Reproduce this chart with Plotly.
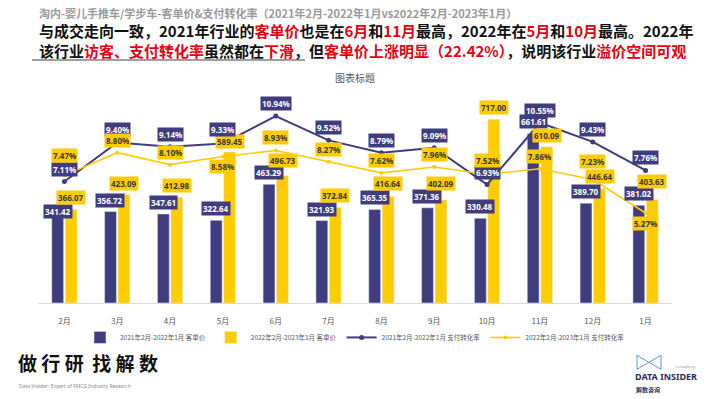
import plotly.graph_objects as go

# ---------------- data ----------------
months = ["2月", "3月", "4月", "5月", "6月", "7月", "8月", "9月", "10月", "11月", "12月", "1月"]
price_2021 = [341.42, 356.72, 347.61, 322.64, 463.29, 321.93, 365.35, 371.36, 330.48, 661.61, 389.70, 381.02]
price_2022 = [366.07, 423.09, 412.98, 589.45, 496.73, 372.84, 416.64, 402.09, 717.00, 610.09, 446.64, 403.63]
rate_2021 = [7.11, 9.40, 9.14, 9.33, 10.94, 9.52, 8.79, 9.09, 6.93, 10.55, 9.43, 7.76]
rate_2022 = [7.47, 8.80, 8.10, 8.58, 8.93, 8.27, 7.62, 7.96, 7.52, 7.86, 7.23, 5.27]
series_names = ["2021年2月-2022年1月 客单价", "2022年2月-2023年1月 客单价",
                "2021年2月-2022年1月 支付转化率", "2022年2月-2023年1月 支付转化率"]

# label offsets in pixels (style only)
price_2021_label_shift = [-3.5, 4, 4, 4, 4, 4, 4, 4, 4, 4, 4, 4]
price_2022_label_shift = [4, 4, 4, 3, 8, 4, 5, 9, 4, 4, 5, 11]
rate_2021_label_shift = [5, 5, 5, 7, 5, 5, 5, 5, 5, 5, 5, 5]
rate_2022_label_shift = [12, 5, 5, -3, 5, 5, 5, 5, 7, 5, 10, -3]  # negative = below point

NAVY = "#403D7F"
YELLOW = "#FFCC00"
FONT_CJK = "Noto Sans CJK SC"

# ---------------- layout geometry helpers ----------------
PLOT_L, PLOT_R = 38, 672
PLOT_T, PLOT_B = 98, 303.5
W, H = 710, 399


def px(x):
    return (x - PLOT_L) / (PLOT_R - PLOT_L)


def py(y):
    return (PLOT_B - y) / (PLOT_B - PLOT_T)


fig = go.Figure()
fig.add_trace(go.Bar(x=months, y=price_2021, name=series_names[0], marker_color=NAVY))
fig.add_trace(go.Bar(x=months, y=price_2022, name=series_names[1], marker_color=YELLOW))
fig.add_trace(go.Scatter(x=months, y=rate_2021, name=series_names[2], yaxis="y2",
                         mode="lines+markers", line=dict(color=NAVY, width=2),
                         marker=dict(color=NAVY, size=5)))
fig.add_trace(go.Scatter(x=months, y=rate_2022, name=series_names[3], yaxis="y2",
                         mode="lines+markers", line=dict(color=YELLOW, width=1.6),
                         marker=dict(color=YELLOW, size=4)))

annotations = []
lab_font_w = dict(family="Noto Sans", size=8, color="white", weight="bold")
lab_font_d = dict(family="Noto Sans", size=8, color="#3a3a3a", weight="bold")
BAR_OFF = 6.8


def vlabel(shift):
    return dict(yshift=shift, yanchor="bottom") if shift >= 0 else dict(yshift=shift, yanchor="top")


for m, v, s in zip(months, price_2021, price_2021_label_shift):
    annotations.append(dict(x=m, y=v, xref="x", yref="y", text=f"{v:.2f}", showarrow=False,
                            xshift=-BAR_OFF, yshift=s, yanchor="bottom", bgcolor=NAVY,
                            borderpad=1, font=lab_font_w))
for m, v, s in zip(months, price_2022, price_2022_label_shift):
    annotations.append(dict(x=m, y=v, xref="x", yref="y", text=f"{v:.2f}", showarrow=False,
                            xshift=BAR_OFF, yshift=s, yanchor="bottom", bgcolor=YELLOW,
                            borderpad=1, font=lab_font_d))
for m, v, s in zip(months, rate_2021, rate_2021_label_shift):
    annotations.append(dict(x=m, y=v, xref="x", yref="y2", text=f"{v:.2f}%", showarrow=False,
                            bgcolor=NAVY, borderpad=1, font=lab_font_w, **vlabel(s)))
for m, v, s in zip(months, rate_2022, rate_2022_label_shift):
    annotations.append(dict(x=m, y=v, xref="x", yref="y2", text=f"{v:.2f}%", showarrow=False,
                            bgcolor=YELLOW, borderpad=1, font=lab_font_d, **vlabel(s)))

# heading texts
R = "#E60012"
line1 = ("与成交走向一致，2021年行业的<span style='color:%s'>客单价</span>也是在"
         "<span style='color:%s'>6月</span>和<span style='color:%s'>11月</span>最高，2022年在"
         "<span style='color:%s'>5月</span>和<span style='color:%s'>10月</span>最高。2022年") % (R, R, R, R, R)
line2 = ("该行业<span style='color:%s'>访客、支付转化率</span>虽然都在"
         "<span style='color:%s'>下滑</span>，但<span style='color:%s'>客单价上涨明显（22.42%%）</span>"
         "，说明该行业<span style='color:%s'>溢价空间可观</span>") % (R, R, R, R)

annotations += [
    dict(x=px(37), y=py(13), xref="paper", yref="paper", xanchor="left", yanchor="middle",
         showarrow=False,
         text="淘内-婴儿手推车/学步车-客单价&支付转化率（2021年2月-2022年1月vs2022年2月-2023年1月）",
         font=dict(family=FONT_CJK, size=11, color="#9a9a9a", weight="bold")),
    dict(x=px(37), y=py(40), xref="paper", yref="paper", xanchor="left", yanchor="middle",
         align="left", showarrow=False, text=line1 + "<br>" + line2,
         font=dict(family=FONT_CJK, size=15, color="#111111", weight="bold")),
    dict(x=0.5, y=py(77), xref="paper", yref="paper", xanchor="center", yanchor="middle",
         showarrow=False, text="图表标题",
         font=dict(family=FONT_CJK, size=10, color="#595959")),
    dict(x=px(16), y=py(363), xref="paper", yref="paper", xanchor="left", yanchor="middle",
         showarrow=False, text="做 行 研  找 解 数",
         font=dict(family=FONT_CJK, size=19, color="#111111", weight="bold")),
    dict(x=px(17), y=py(387), xref="paper", yref="paper", xanchor="left", yanchor="middle",
         showarrow=False, text="Data Insider- Expert of FMCG Industry Research",
         font=dict(family="Noto Sans", size=5, color="#8a8a8a")),
    dict(x=px(633), y=py(377), xref="paper", yref="paper", xanchor="left", yanchor="middle",
         showarrow=False, text="DATA INSIDER",
         font=dict(family="Noto Sans", size=9, color="#2b2f5e", weight="bold")),
    dict(x=px(634), y=py(390), xref="paper", yref="paper", xanchor="left", yanchor="middle",
         showarrow=False, text="解数咨询",
         font=dict(family=FONT_CJK, size=6, color="#2b2f5e", weight="bold")),
    dict(x=px(698), y=py(367), xref="paper", yref="paper", xanchor="right", yanchor="middle",
         showarrow=False, text="Consulting",
         font=dict(family="Noto Sans", size=4, color="#9a9a9a")),
]

shapes = [
    dict(type="line", xref="paper", yref="paper", x0=px(32), x1=px(305), y0=py(60), y1=py(60),
         line=dict(color="#7f7f7f", width=1.5)),
    dict(type="path", xref="paper", yref="paper",
         path=f"M {px(637)},{py(356)} L {px(661)},{py(370)} L {px(661)},{py(356)} L {px(637)},{py(370)} Z",
         line=dict(color="#5b9bd5", width=1)),
]

fig.update_layout(
    width=W, height=H,
    margin=dict(l=PLOT_L, r=W - PLOT_R, t=PLOT_T, b=H - PLOT_B, autoexpand=False),
    paper_bgcolor="white", plot_bgcolor="white",
    barmode="group", bargap=0.49, bargroupgap=0.12,
    font=dict(family=FONT_CJK, color="#595959"),
    showlegend=True,
    legend=dict(orientation="h", x=0.5, xanchor="center", y=py(338), yanchor="middle",
                font=dict(family=FONT_CJK, size=6.5, color="#595959"),
                itemwidth=30, tracegroupgap=0, bgcolor="rgba(0,0,0,0)"),
    xaxis=dict(range=[-0.5, len(months) - 0.5], autorange=False,
               showgrid=False, showline=True, linecolor="#d9d9d9", linewidth=1,
               ticks="", tickfont=dict(family=FONT_CJK, size=8, color="#595959"),
               ticklabelstandoff=10, zeroline=False),
    yaxis=dict(range=[0, 800], autorange=False, showgrid=False, showticklabels=False,
               zeroline=False, showline=False),
    yaxis2=dict(range=[0, 12], autorange=False, overlaying="y", side="right", showgrid=False,
                showticklabels=False, zeroline=False, showline=False),
    annotations=annotations,
    shapes=shapes,
)

fig.write_html("out.html", config={"displayModeBar": False},
               post_script="document.body.style.margin='0';")
